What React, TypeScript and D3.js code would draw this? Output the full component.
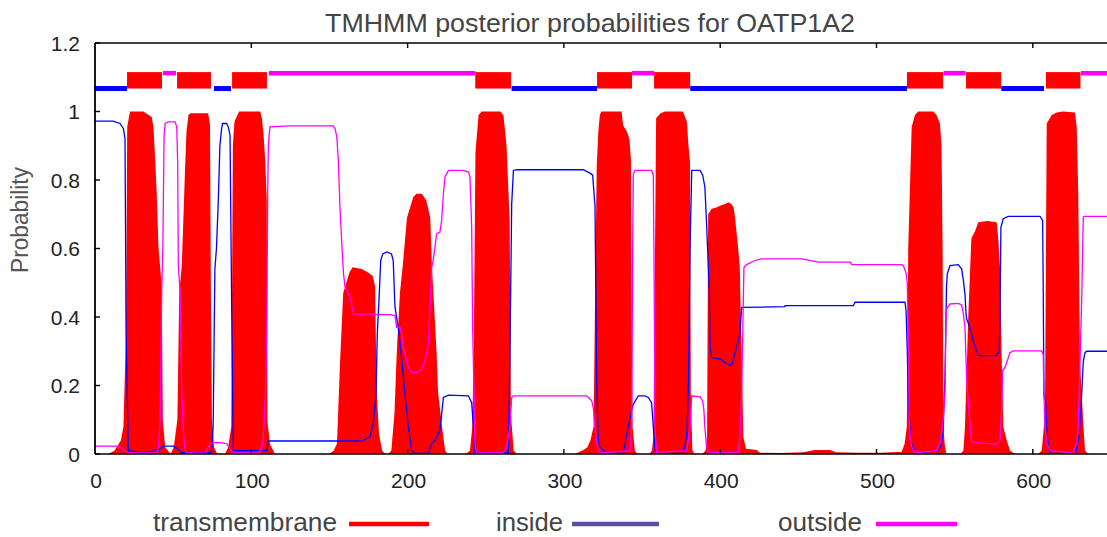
import React from "react";
import * as d3 from "d3";

// ---- data (residue position, probability) ----
const transmembrane: [number, number][] = [
  [0, 0], [8.6, 0], [12.6, 0.01], [16.6, 0.04], [18.2, 0.08], [19.8, 0.35], [20.6, 0.955], [22.4, 1.0], [30.9, 1.0], [36.3, 0.984], [37.4, 0.955], [38.4, 0.867], [39.5, 0.76], [40.6, 0.604], [41.7, 0.545], [42.7, 0.487], [43.4, 0.097], [44.9, 0.02], [48.4, 0],
  [50.4, 0.02], [52.7, 0.1], [53.9, 0.47], [55.5, 0.55], [56.5, 0.68], [57.6, 0.83], [58.5, 0.94], [59.8, 0.99], [61, 0.995], [72.4, 0.995], [73.6, 0.96], [74.1, 0.5], [74.8, 0.1], [76.2, 0.02], [78.2, 0],
  [83.2, 0], [85.2, 0.02], [87.2, 0.08], [88.2, 0.9], [89.2, 0.97], [92.2, 1.0], [105.7, 1.0], [106.8, 0.98], [107.8, 0.935], [108.9, 0.857], [109.9, 0.74], [110.3, 0.097], [111.9, 0.03], [115.1, 0],
  [149.8, 0], [152.8, 0.01], [154.8, 0.03], [156.8, 0.27], [158.8, 0.47], [160.8, 0.5], [162.8, 0.53], [164.8, 0.545], [170.7, 0.54], [174.7, 0.53], [177.7, 0.52], [179.2, 0.49], [180.2, 0.18], [181.7, 0.06], [183.7, 0.01], [185.7, 0],
  [187.6, 0], [189.6, 0.01], [191.6, 0.12], [193.1, 0.3], [195.1, 0.47], [197.1, 0.56], [199.6, 0.69], [201.6, 0.72], [203.6, 0.75], [205.6, 0.76], [209.1, 0.76], [212, 0.74], [214.5, 0.69], [215.5, 0.55], [216.5, 0.47], [218.5, 0.3], [219.5, 0.18], [222, 0.08], [224, 0.01], [225.5, 0],
  [237.4, 0], [239.9, 0.01], [241.4, 0.08], [242.4, 0.34], [243.4, 0.88], [245.4, 0.99], [247.4, 1.0], [259.3, 1.0], [261.3, 0.99], [263.3, 0.9], [265.3, 0.68], [266.1, 0.12], [267.8, 0.01], [269.8, 0],
  [307.1, 0], [312, 0.01], [315, 0.02], [317, 0.04], [319, 0.08], [320, 0.47], [321, 0.84], [322, 0.94], [323, 0.99], [324, 1.0], [336.9, 1.0], [337.9, 0.96], [340.4, 0.94], [341.9, 0.92], [342.9, 0.86], [343.4, 0.37], [343.9, 0.08], [345.4, 0.01], [346.9, 0],
  [354.8, 0], [356.3, 0.01], [357.3, 0.05], [358.3, 0.6], [359, 0.98], [361.8, 0.995], [364.8, 1.0], [376.2, 1.0], [378.7, 0.97], [379.7, 0.9], [380.7, 0.85], [381.2, 0.18], [382.2, 0.01], [383.7, 0],
  [388.6, 0], [390.6, 0.01], [391.6, 0.05], [392.3, 0.7], [394.6, 0.716], [397.6, 0.72], [400.6, 0.726], [403.1, 0.73], [405.1, 0.735], [407.1, 0.73], [408.6, 0.72], [409.5, 0.69], [411.5, 0.6], [412.5, 0.55], [414.8, 0.05], [416.5, 0.015], [423.5, 0.012], [425.5, 0.003],
  [428.5, 0.004], [438.3, 0.003], [453.3, 0.005], [460.3, 0.012], [470.2, 0.012], [474.2, 0.005], [488.1, 0.004], [503, 0.004], [513, 0.006],
  [516, 0.005], [518, 0.03], [519.4, 0.08], [520.3, 0.6], [522.5, 0.955], [524.6, 0.99], [526.7, 1.0], [536.4, 1.0], [538.4, 0.99], [540.6, 0.965], [541.6, 0.9], [542.3, 0.6], [542.8, 0.08], [543.8, 0.02], [544.8, 0],
  [553.8, 0], [555.6, 0.01], [556.6, 0.08], [558.7, 0.4], [560.7, 0.63], [563, 0.65], [565.1, 0.677], [570.7, 0.68], [576.9, 0.677], [577.9, 0.63], [579, 0.545], [580, 0.3], [581.1, 0.08], [583.3, 0.04], [585.4, 0.01], [588.6, 0],
  [603.5, 0], [605.7, 0.01], [606.7, 0.06], [607.8, 0.12], [608.9, 0.965], [612.1, 0.99], [615.3, 0.997], [619.4, 1.0], [627, 0.997], [628.1, 0.955], [629.1, 0.76], [630.2, 0.26], [631.3, 0.175], [632.4, 0.08], [633.4, 0.01], [635.4, 0], [670, 0],
];

const inside: [number, number][] = [
  [0, 0.972], [11.6, 0.972], [16, 0.965], [18.2, 0.95], [19.2, 0.92], [19.9, 0.35], [21.3, 0.01], [30.5, 0.005], [39.5, 0.01], [41.5, 0.015], [43.8, 0.023], [50.1, 0.023], [52.7, 0.015], [55.4, 0.005], [74.6, 0.005], [75.6, 0.08], [76.7, 0.54], [77.7, 0.6], [78.9, 0.74], [79.9, 0.9], [81, 0.95], [81.6, 0.965], [84.2, 0.965], [85.3, 0.955], [86.4, 0.93], [87.5, 0.4], [88.5, 0.01], [109.9, 0.01], [110.8, 0.038], [170.5, 0.038],
  [171.7, 0.04], [175.9, 0.05], [178, 0.087], [179.8, 0.175], [180.6, 0.35], [181.9, 0.47], [182.8, 0.565], [184.1, 0.584], [186.7, 0.59], [189.7, 0.584], [190.8, 0.565], [191.9, 0.43], [194, 0.37], [196.2, 0.28], [198.3, 0.175], [200.5, 0.08], [202.6, 0.01], [204.6, 0.002], [213.2, 0.002], [215.4, 0.03], [217.5, 0.04], [220.7, 0.07], [222.9, 0.165], [226.1, 0.172], [238.9, 0.17], [241, 0.15], [242.1, 0.08], [243.1, 0.005], [264.5, 0.005], [265.5, 0.3], [266.6, 0.73], [267.7, 0.828], [269.8, 0.83],
  [312.4, 0.83], [314.5, 0.825], [316.7, 0.82], [318.4, 0.814], [319.3, 0.76], [319.9, 0.726], [321, 0.2], [322, 0.04], [323.1, 0.02], [327.4, 0.002], [338, 0.002], [339.1, 0.03], [341.2, 0.08], [343.4, 0.13], [344.4, 0.145], [347.6, 0.17], [351.8, 0.17], [354, 0.165], [356.1, 0.15], [357.2, 0.08], [358.3, 0.01], [359.8, 0.002], [376.4, 0.002], [378.6, 0.05], [379.7, 0.2], [380.7, 0.6], [381.8, 0.828], [387.1, 0.828], [388.8, 0.814], [390.2, 0.779], [391.3, 0.672], [392.4, 0.545], [393.1, 0.467], [393.5, 0.311], [394.5, 0.282], [399.9, 0.277], [403.1, 0.267], [406.3, 0.258], [407.4, 0.262], [408.4, 0.277], [410.5, 0.311], [412.6, 0.35], [413.7, 0.428], [441.3, 0.43], [441.5, 0.433], [485.2, 0.433], [486.3, 0.443], [516.1, 0.443],
  [518.2, 0.443], [518.9, 0.42], [519.7, 0.3], [520.3, 0.175], [521.4, 0.077], [522.5, 0.03], [524.6, 0.01], [525.9, 0.002], [539.5, 0.01], [541.6, 0.03], [542.7, 0.077], [543.8, 0.22], [544.8, 0.49], [545.3, 0.526], [547, 0.55], [552.3, 0.553], [554.5, 0.54], [555.6, 0.506], [556.6, 0.467], [557.3, 0.409], [557.7, 0.394], [559.7, 0.37], [561.9, 0.331], [564, 0.301], [565.1, 0.287], [576.9, 0.287], [578.5, 0.301], [579, 0.4], [579.6, 0.662], [581.1, 0.687], [584.3, 0.694], [604.6, 0.694], [606.3, 0.682], [606.7, 0.467], [607.1, 0.175], [608.2, 0.155], [608.9, 0.077], [609.9, 0.02], [611.5, 0.002], [627.4, 0.002], [628.1, 0.02], [629.8, 0.058], [631.3, 0.175], [632.3, 0.27], [633.4, 0.296], [634.5, 0.3], [670, 0.3],
];

const outside: [number, number][] = [
  [0, 0.023], [13.9, 0.023], [16, 0.02], [18.2, 0.012], [19.2, 0.008], [21.3, 0.003], [39.5, 0.003], [40.6, 0.02], [41.7, 0.1], [42.7, 0.48], [43.4, 0.6], [44.2, 0.93], [44.9, 0.965], [46.9, 0.97], [51.2, 0.97], [52.3, 0.955], [52.9, 0.85], [53.3, 0.55], [54.4, 0.477], [54.9, 0.35], [55.5, 0.18], [56.6, 0.06], [57.6, 0.01], [58.4, 0.003], [70.4, 0.003], [71.4, 0.01], [72.4, 0.02], [73.9, 0.03], [75.6, 0.033], [81, 0.033], [82.1, 0.032], [84.2, 0.03], [86.4, 0.015], [87.5, 0.005], [104.5, 0.003], [105.6, 0.01], [107.3, 0.03], [108.1, 0.08], [109, 0.175], [109.9, 0.35], [110.5, 0.76], [110.9, 0.9], [111.9, 0.955], [124.8, 0.958],
  [152.5, 0.958], [153.6, 0.95], [154.7, 0.926], [155.7, 0.857], [156.8, 0.711], [157.9, 0.614], [159, 0.526], [160, 0.487], [161.1, 0.477], [163.2, 0.457], [165.4, 0.409], [188.8, 0.407], [191.9, 0.404], [193, 0.37], [195.1, 0.37], [196.2, 0.35], [197.2, 0.311], [198.3, 0.292], [200.5, 0.253], [202.6, 0.238], [205.8, 0.238], [209, 0.248], [211.1, 0.272], [213.2, 0.321], [214.3, 0.418], [215.4, 0.545], [216.4, 0.565], [217.5, 0.604], [218.6, 0.643], [220.7, 0.648], [221.8, 0.682], [222.9, 0.76], [223.9, 0.809], [226.1, 0.828], [235.6, 0.828], [238.9, 0.823], [239.9, 0.809], [241, 0.662], [241.6, 0.37], [242.5, 0.175], [243.1, 0.029], [244.2, 0.003], [261.2, 0.005], [263.4, 0.02], [265.5, 0.08], [266.6, 0.165], [267.7, 0.17],
  [314.5, 0.17], [315.6, 0.165], [317.8, 0.155], [318.8, 0.135], [319.9, 0.077], [321, 0.03], [322, 0.01], [323, 0.003], [342.3, 0.01], [343.4, 0.077], [344, 0.6], [344.4, 0.818], [345.5, 0.828], [356.1, 0.828], [357.2, 0.814], [357.6, 0.6], [358.3, 0.077], [359.3, 0.005], [378.6, 0.01], [380.7, 0.077], [381.8, 0.17], [387.1, 0.167], [388.8, 0.155], [389.6, 0.126], [390.2, 0.077], [391.3, 0.02], [392.4, 0.005], [411.5, 0.005], [412.6, 0.05], [413.7, 0.175], [414.8, 0.45], [415.2, 0.545], [416.9, 0.553], [422.3, 0.565], [426.4, 0.57], [452.1, 0.57], [462.8, 0.56], [483.1, 0.56], [484.2, 0.553], [516.1, 0.553],
  [517.2, 0.55], [518.8, 0.53], [519.7, 0.5], [520.3, 0.35], [520.9, 0.1], [521.4, 0.058], [522.5, 0.02], [524.6, 0.003], [538.5, 0.01], [540.6, 0.03], [542.3, 0.08], [543.8, 0.175], [544.4, 0.38], [544.8, 0.423], [547, 0.438], [552.3, 0.44], [554.5, 0.435], [555.6, 0.409], [556.6, 0.37], [557.6, 0.23], [558.7, 0.15], [560.8, 0.038], [561.9, 0.033], [576.9, 0.029], [579, 0.04], [580, 0.12], [580.7, 0.243], [582.2, 0.253], [583.7, 0.272], [585.4, 0.296], [587.5, 0.301], [605.7, 0.301], [606.7, 0.29], [607.1, 0.175], [607.8, 0.08], [608.9, 0.03], [611, 0.01], [625.9, 0.003], [628.1, 0.03], [629.1, 0.08], [630.2, 0.27], [631.3, 0.45], [631.9, 0.6], [632.3, 0.692], [633.4, 0.694], [670, 0.694],
];

// predicted topology (start, end)
const tmSegments: [number, number][] = [
  [20.5, 42.9], [52.5, 74.2], [87.7, 110], [243.3, 266.2], [321.2, 343.6], [357.7, 380.8], [519.5, 542.6], [557.3, 579.8], [608.4, 630.5],
];
const insideSegments: [number, number][] = [
  [0, 20.5], [76.1, 87], [266.5, 321.2], [380.8, 519.5], [579.8, 607.2],
];
const outsideSegments: [number, number][] = [
  [43.5, 51.8], [111.3, 243.3], [343.6, 357.7], [542.9, 557], [630.8, 670],
];

const xTicks = [0, 100, 200, 300, 400, 500, 600];
const yTicks = [0, 0.2, 0.4, 0.6, 0.8, 1, 1.2];
const legendItems = ["transmembrane", "inside", "outside"];

const TITLE = "TMHMM posterior probabilities for OATP1A2";
const FONT = "'Liberation Sans', Arial, Helvetica, sans-serif";

export default function App() {
  const W = 1107, H = 537;
  const x = d3.scaleLinear().domain([0, 670]).range([95, 95 + 670 * 1.563]);
  const y = d3.scaleLinear().domain([0, 1.2]).range([454, 43]);

  const area = d3.area<[number, number]>()
    .x(d => x(d[0])).y0(y(0)).y1(d => y(d[1]));
  const line = d3.line<[number, number]>()
    .x(d => x(d[0])).y(d => y(d[1]));

  const tmTop = 1.115, tmBot = 1.067;
  const inY = 1.067, outY = 1.112;

  const legendX = [
    { tx: 153, tw: 184, lx1: 349, lx2: 429, color: "#ff0000" },
    { tx: 496, tw: 67, lx1: 572, lx2: 659, color: "#5a50a0" },
    { tx: 778, tw: 84, lx1: 876, lx2: 957, color: "#ff00ff" },
  ];

  return (
    <svg width={W} height={H} style={{ position: "absolute", left: 0, top: 0, background: "#fff" }}
      fontFamily={FONT}>
      <rect x={0} y={0} width={W} height={H} fill="#fff" />
      <defs>
        <clipPath id="plotclip">
          <rect x={x(0)} y={y(1.2)} width={W - x(0)} height={y(0) - y(1.2)} />
        </clipPath>
      </defs>

      <text x={590} y={32} textAnchor="middle" fontSize={26.5} fill="#444"
        textLength={530} lengthAdjust="spacingAndGlyphs">{TITLE}</text>

      <g clipPath="url(#plotclip)">
        <path d={area(transmembrane) || ""} fill="#ff0000" />
        <path d={line(inside) || ""} fill="none" stroke="#0000ff" strokeWidth={1.3} />
        <path d={line(outside) || ""} fill="none" stroke="#ff00ff" strokeWidth={1.3} />

        {insideSegments.map((s, i) => (
          <line key={"in" + i} x1={x(s[0])} x2={x(s[1])} y1={y(inY)} y2={y(inY)}
            stroke="#0000ff" strokeWidth={5} />
        ))}
        {outsideSegments.map((s, i) => (
          <line key={"out" + i} x1={x(s[0])} x2={x(s[1])} y1={y(outY)} y2={y(outY)}
            stroke="#ff00ff" strokeWidth={4.5} />
        ))}
        {tmSegments.map((s, i) => (
          <rect key={"tm" + i} x={x(s[0])} width={x(s[1]) - x(s[0])}
            y={y(tmTop)} height={y(tmBot) - y(tmTop)} fill="#ff0000" />
        ))}
      </g>

      {/* frame */}
      <line x1={x(0)} x2={W} y1={y(0)} y2={y(0)} stroke="#000" strokeWidth={1.6} />
      <line x1={x(0)} x2={W} y1={y(1.2)} y2={y(1.2)} stroke="#000" strokeWidth={1.6} />
      <line x1={x(0)} x2={x(0)} y1={y(1.2)} y2={y(0)} stroke="#000" strokeWidth={1.8} />

      {yTicks.map(t => (
        <g key={"yt" + t}>
          <line x1={x(0)} x2={x(0) + 5} y1={y(t)} y2={y(t)} stroke="#000" strokeWidth={1.4} />
          <text x={80} y={y(t)} dy="0.36em" textAnchor="end" fontSize={21} fill="#222">{String(t)}</text>
        </g>
      ))}
      {xTicks.map(t => (
        <g key={"xt" + t}>
          {t > 0 && <line x1={x(t)} x2={x(t)} y1={y(0)} y2={y(0) - 5} stroke="#000" strokeWidth={1.4} />}
          {t > 0 && <line x1={x(t)} x2={x(t)} y1={y(1.2)} y2={y(1.2) + 5} stroke="#000" strokeWidth={1.4} />}
          <text x={x(t) + 1} y={488} textAnchor="middle" fontSize={21} fill="#222">{String(t)}</text>
        </g>
      ))}

      <text transform="translate(28,220) rotate(-90)" textAnchor="middle" fontSize={23} fill="#555"
        textLength={106} lengthAdjust="spacingAndGlyphs">Probability</text>

      {legendItems.map((name, i) => (
        <g key={name}>
          <text x={legendX[i].tx} y={531} fontSize={25} fill="#444"
            textLength={legendX[i].tw} lengthAdjust="spacingAndGlyphs">{name}</text>
          <line x1={legendX[i].lx1} x2={legendX[i].lx2} y1={524} y2={524}
            stroke={legendX[i].color} strokeWidth={4.5} />
        </g>
      ))}
    </svg>
  );
}
